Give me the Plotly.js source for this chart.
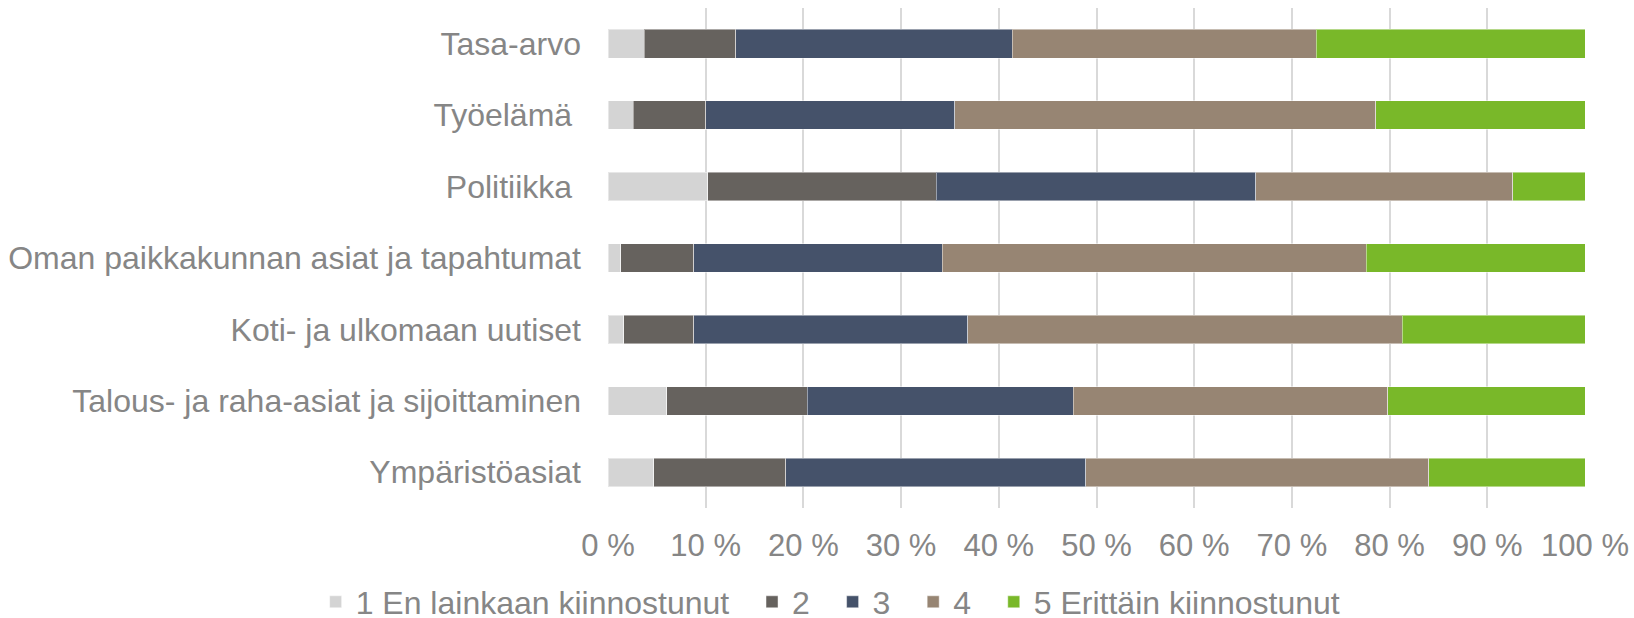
<!DOCTYPE html>
<html>
<head>
<meta charset="utf-8">
<script src="https://cdn.plot.ly/plotly-3.0.1.min.js"></script>
<style>
html,body{margin:0;padding:0;background:#fff;}
#chart{width:1634px;height:618px;}
</style>
</head>
<body>
<div id="chart"></div>
<script>
// Categories, top to bottom
const categories = [
  "Tasa-arvo",
  "Työelämä ",
  "Politiikka ",
  "Oman paikkakunnan asiat ja tapahtumat",
  "Koti- ja ulkomaan uutiset",
  "Talous- ja raha-asiat ja sijoittaminen",
  "Ympäristöasiat"
];
const seriesNames = ["1 En lainkaan kiinnostunut", "2", "3", "4", "5 Erittäin kiinnostunut"];
// Shares (%) for each category, same order as categories
const s1 = [3.7, 2.6, 10.2, 1.3, 1.6, 6.0, 4.7];
const s2 = [9.4, 7.4, 23.4, 7.5, 7.2, 14.4, 13.5];
const s3 = [28.3, 25.5, 32.7, 25.4, 28.0, 27.2, 30.7];
const s4 = [31.1, 43.1, 26.3, 43.4, 44.5, 32.2, 35.1];
const s5 = [27.5, 21.4, 7.4, 22.4, 18.7, 20.2, 16.0];
const tickVals = [0, 10, 20, 30, 40, 50, 60, 70, 80, 90, 100];
const tickText = ["0 %", "10 %", "20 %", "30 %", "40 %", "50 %", "60 %", "70 %", "80 %", "90 %", "100 %"];

const colors = ["#d4d4d4", "#66625e", "#45526a", "#978573", "#79b829"];
const series = [s1, s2, s3, s4, s5];
const pad = "\u00A0\u00A0";

const traces = series.map((vals, i) => ({
  type: "bar",
  orientation: "h",
  name: seriesNames[i] + pad,
  y: categories,
  x: vals,
  marker: {color: colors[i], line: {color: "rgba(255,255,255,0.45)", width: 1}},
  hoverinfo: "x+y+name"
}));

const textColor = "#868686";
const fontFamily = "Liberation Sans, Arial, sans-serif";
const labelFont = {family: fontFamily, size: 32, color: textColor};
const tickFont = {family: fontFamily, size: 31, color: textColor};

const layout = {
  width: 1634,
  height: 618,
  margin: {l: 607.5, r: 49, t: 8, b: 110, autoexpand: false},
  paper_bgcolor: "#ffffff",
  plot_bgcolor: "#ffffff",
  barmode: "stack",
  bargap: 0.6,
  font: labelFont,
  showlegend: true,
  legend: {
    orientation: "h",
    xref: "paper",
    yref: "paper",
    x: (315 - 607.5) / 977.5,
    xanchor: "left",
    y: -(602 - 508) / 500,
    yanchor: "middle",
    font: labelFont,
    traceorder: "normal",
    bgcolor: "rgba(0,0,0,0)"
  },
  xaxis: {
    range: [0, 100],
    tickvals: tickVals,
    ticktext: tickText,
    showgrid: true,
    gridcolor: "#d9d9d9",
    gridwidth: 2,
    zeroline: false,
    showline: false,
    ticks: "",
    ticklabelstandoff: 16,
    tickfont: tickFont,
    fixedrange: true
  },
  yaxis: {
    type: "category",
    autorange: "reversed",
    showgrid: false,
    zeroline: false,
    showline: false,
    ticks: "",
    ticklabelstandoff: 26,
    tickfont: labelFont,
    fixedrange: true
  }
};

Plotly.newPlot("chart", traces, layout, {displayModeBar: false, staticPlot: true});
</script>
</body>
</html>
